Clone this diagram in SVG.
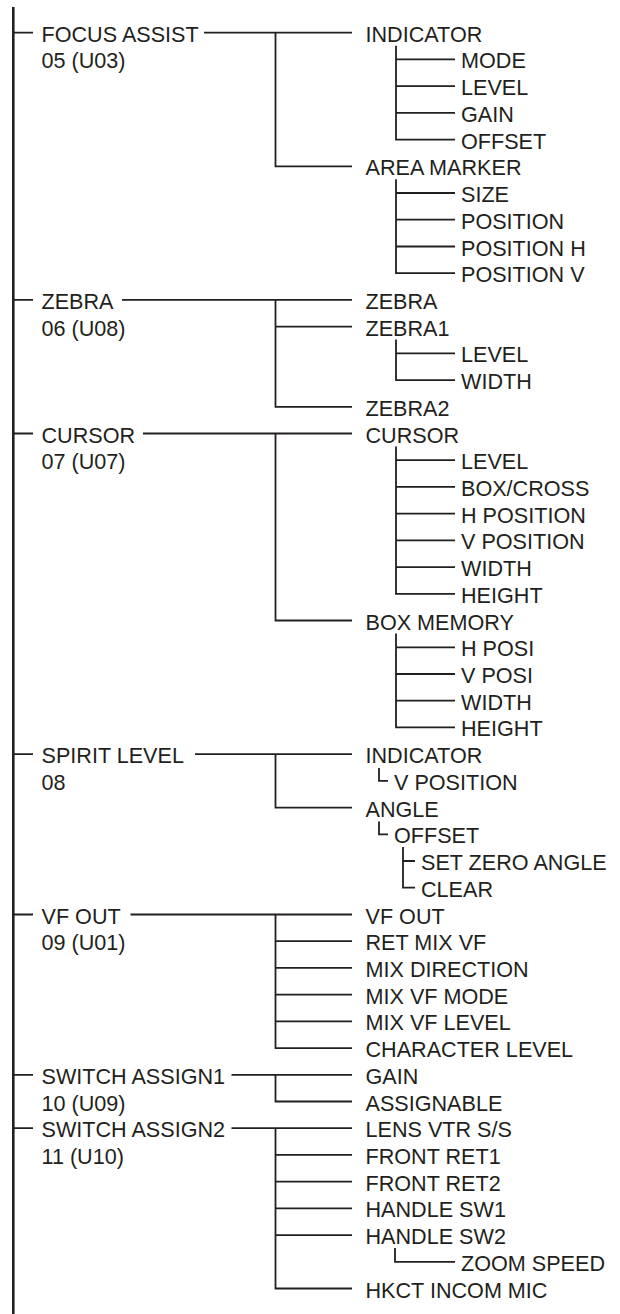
<svg xmlns="http://www.w3.org/2000/svg" width="620" height="1314" viewBox="0 0 620 1314">
<style>
.t{font-family:"Liberation Sans",Arial,Helvetica,sans-serif;font-size:21.6px;fill:#231f20}
.c{stroke:#231f20;stroke-width:1.8;fill:none}
.m{stroke:#231f20;stroke-width:2.6;fill:none}
</style>
<rect width="620" height="1314" fill="#ffffff"/>
<g id="connectors">
<path class="m" d="M13.3 7V1314"/>
<path class="c" d="M13.3 32.7H33M13.3 299.9H33M13.3 433.5H33M13.3 754.1H33M13.3 914.5H33M13.3 1074.8H33M13.3 1128.2H33"/>
<path class="c" d="M204 32.7H352M122 299.9H352M143 433.5H352M195 754.1H352M130.5 914.5H352M231.5 1074.8H352M231.5 1128.2H352"/>
<path class="c" d="M275.5 32.7V166.3H352"/>
<path class="c" d="M275.5 299.9V406.8H352M275.5 326.6H352"/>
<path class="c" d="M275.5 433.5V620.5H352"/>
<path class="c" d="M275.5 754.1V807.6H352"/>
<path class="c" d="M275.5 914.5V1048.1H352M275.5 941.2H352M275.5 967.9H352M275.5 994.6H352M275.5 1021.3H352"/>
<path class="c" d="M275.5 1074.8V1101.5H352"/>
<path class="c" d="M275.5 1128.2V1288.5H352M275.5 1154.9H352M275.5 1181.7H352M275.5 1208.4H352M275.5 1235.1H352"/>
<path class="c" d="M396 45.7V139.6H455M396 59.4H455M396 86.1H455M396 112.9H455"/>
<path class="c" d="M396 179.3V273.2H455M396 193H455M396 219.7H455M396 246.5H455"/>
<path class="c" d="M396 339.6V380.1H455M396 353.3H455"/>
<path class="c" d="M396 446.5V593.8H455M396 460.2H455M396 486.9H455M396 513.7H455M396 540.4H455M396 567.1H455"/>
<path class="c" d="M396 633.5V727.4H455M396 647.3H455M396 674H455M396 700.7H455"/>
<path class="c" d="M379 768V780.9H388M379 821.5V834.3H388M403 847V887.7H415M403 861H415"/>
<path class="c" d="M395 1248V1261.8H455"/>
</g>
<g id="focus-assist"><text class="t" x="41.5" y="41.7">FOCUS ASSIST</text><text class="t" x="41.5" y="68.4">05 (U03)</text></g>
<g id="fa-indicator"><text class="t" x="365.5" y="41.7">INDICATOR</text></g>
<g id="fa-mode"><text class="t" x="461" y="68.4">MODE</text></g>
<g id="fa-level"><text class="t" x="461" y="95.1">LEVEL</text></g>
<g id="fa-gain"><text class="t" x="461" y="121.9">GAIN</text></g>
<g id="fa-offset"><text class="t" x="461" y="148.6">OFFSET</text></g>
<g id="fa-area-marker"><text class="t" x="365.5" y="175.3">AREA MARKER</text></g>
<g id="fa-size"><text class="t" x="461" y="202">SIZE</text></g>
<g id="fa-position"><text class="t" x="461" y="228.7">POSITION</text></g>
<g id="fa-position-h"><text class="t" x="461" y="255.5">POSITION H</text></g>
<g id="fa-position-v"><text class="t" x="461" y="282.2">POSITION V</text></g>
<g id="zebra"><text class="t" x="41.5" y="308.9">ZEBRA</text><text class="t" x="41.5" y="335.6">06 (U08)</text></g>
<g id="z-zebra"><text class="t" x="365.5" y="308.9">ZEBRA</text></g>
<g id="z-zebra1"><text class="t" x="365.5" y="335.6">ZEBRA1</text></g>
<g id="z-level"><text class="t" x="461" y="362.3">LEVEL</text></g>
<g id="z-width"><text class="t" x="461" y="389.1">WIDTH</text></g>
<g id="z-zebra2"><text class="t" x="365.5" y="415.8">ZEBRA2</text></g>
<g id="cursor"><text class="t" x="41.5" y="442.5">CURSOR</text><text class="t" x="41.5" y="469.2">07 (U07)</text></g>
<g id="c-cursor"><text class="t" x="365.5" y="442.5">CURSOR</text></g>
<g id="c-level"><text class="t" x="461" y="469.2">LEVEL</text></g>
<g id="c-boxcross"><text class="t" x="461" y="495.9">BOX/CROSS</text></g>
<g id="c-hpos"><text class="t" x="461" y="522.7">H POSITION</text></g>
<g id="c-vpos"><text class="t" x="461" y="549.4">V POSITION</text></g>
<g id="c-width"><text class="t" x="461" y="576.1">WIDTH</text></g>
<g id="c-height"><text class="t" x="461" y="602.8">HEIGHT</text></g>
<g id="c-box-memory"><text class="t" x="365.5" y="629.5">BOX MEMORY</text></g>
<g id="bm-hposi"><text class="t" x="461" y="656.3">H POSI</text></g>
<g id="bm-vposi"><text class="t" x="461" y="683">V POSI</text></g>
<g id="bm-width"><text class="t" x="461" y="709.7">WIDTH</text></g>
<g id="bm-height"><text class="t" x="461" y="736.4">HEIGHT</text></g>
<g id="spirit-level"><text class="t" x="41.5" y="763.1">SPIRIT LEVEL</text><text class="t" x="41.5" y="789.9">08</text></g>
<g id="sl-indicator"><text class="t" x="365.5" y="763.1">INDICATOR</text></g>
<g id="sl-vpos"><text class="t" x="394" y="789.9">V POSITION</text></g>
<g id="sl-angle"><text class="t" x="365.5" y="816.6">ANGLE</text></g>
<g id="sl-offset"><text class="t" x="394" y="843.3">OFFSET</text></g>
<g id="sl-set-zero"><text class="t" x="421" y="870">SET ZERO ANGLE</text></g>
<g id="sl-clear"><text class="t" x="421" y="896.7">CLEAR</text></g>
<g id="vf-out"><text class="t" x="41.5" y="923.5">VF OUT</text><text class="t" x="41.5" y="950.2">09 (U01)</text></g>
<g id="v-vfout"><text class="t" x="365.5" y="923.5">VF OUT</text></g>
<g id="v-retmix"><text class="t" x="365.5" y="950.2">RET MIX VF</text></g>
<g id="v-mixdir"><text class="t" x="365.5" y="976.9">MIX DIRECTION</text></g>
<g id="v-mixmode"><text class="t" x="365.5" y="1003.6">MIX VF MODE</text></g>
<g id="v-mixlevel"><text class="t" x="365.5" y="1030.3">MIX VF LEVEL</text></g>
<g id="v-charlevel"><text class="t" x="365.5" y="1057.1">CHARACTER LEVEL</text></g>
<g id="switch-assign1"><text class="t" x="41.5" y="1083.8">SWITCH ASSIGN1</text><text class="t" x="41.5" y="1110.5">10 (U09)</text></g>
<g id="s1-gain"><text class="t" x="365.5" y="1083.8">GAIN</text></g>
<g id="s1-assignable"><text class="t" x="365.5" y="1110.5">ASSIGNABLE</text></g>
<g id="switch-assign2"><text class="t" x="41.5" y="1137.2">SWITCH ASSIGN2</text><text class="t" x="41.5" y="1163.9">11 (U10)</text></g>
<g id="s2-lens"><text class="t" x="365.5" y="1137.2">LENS VTR S/S</text></g>
<g id="s2-ret1"><text class="t" x="365.5" y="1163.9">FRONT RET1</text></g>
<g id="s2-ret2"><text class="t" x="365.5" y="1190.7">FRONT RET2</text></g>
<g id="s2-hsw1"><text class="t" x="365.5" y="1217.4">HANDLE SW1</text></g>
<g id="s2-hsw2"><text class="t" x="365.5" y="1244.1">HANDLE SW2</text></g>
<g id="s2-zoom"><text class="t" x="461" y="1270.8">ZOOM SPEED</text></g>
<g id="s2-hkct"><text class="t" x="365.5" y="1297.5">HKCT INCOM MIC</text></g>
</svg>
